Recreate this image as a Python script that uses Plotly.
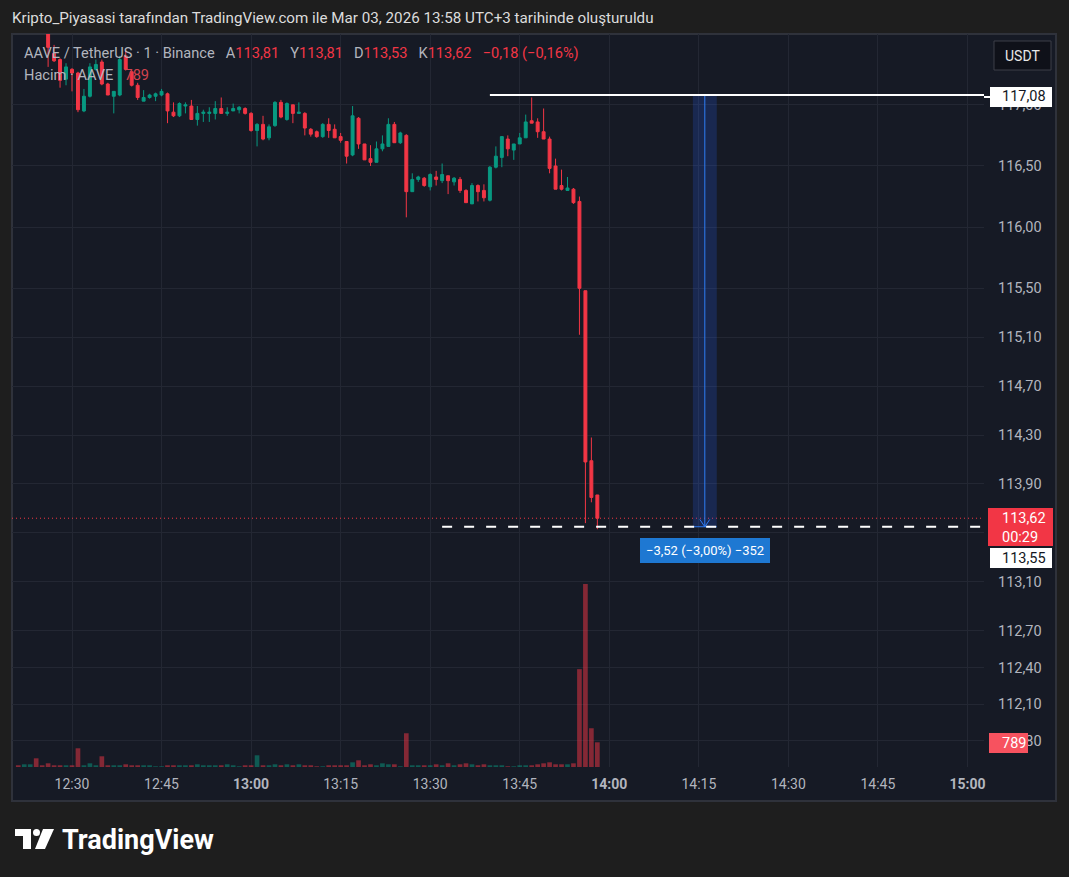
import pandas as pd
import plotly.graph_objects as go

# ---------------- data ----------------
TIME_START = "2026-03-03 12:21"
OPEN = [117.78, 117.74, 117.77, 117.82, 117.66, 117.63, 117.42, 117.37, 117.21, 117.29,
        117.26, 116.95, 117.07, 117.29, 117.35, 117.17, 117.07, 117.08, 117.40, 117.27,
        117.16, 117.03, 117.06, 117.07, 117.08, 117.09, 116.94, 116.91, 116.99, 116.99,
        116.88, 116.93, 116.93, 116.93, 116.97, 116.93, 116.95, 116.96, 116.97, 116.93,
        116.79, 116.84, 116.73, 116.83, 117.02, 116.88, 117.00, 116.93, 116.93, 116.80,
        116.78, 116.74, 116.84, 116.80, 116.74, 116.70, 116.59, 116.89, 116.68, 116.56,
        116.53, 116.64, 116.66, 116.84, 116.69, 116.75, 116.29, 116.39, 116.40, 116.33,
        116.41, 116.38, 116.42, 116.37, 116.39, 116.30, 116.19, 116.34, 116.30, 116.22,
        116.49, 116.57, 116.72, 116.63, 116.68, 116.73, 116.87, 116.86, 116.78, 116.72,
        116.50, 116.34, 116.30, 116.31, 116.21, 115.48, 114.09, 113.81]
HIGH = [117.82, 117.80, 117.86, 117.84, 117.70, 117.66, 117.49, 117.38, 117.34, 117.30,
        117.27, 117.13, 117.34, 117.37, 117.37, 117.18, 117.11, 117.40, 117.45, 117.28,
        117.18, 117.12, 117.09, 117.10, 117.13, 117.10, 117.02, 117.02, 117.02, 117.04,
        116.99, 116.96, 116.98, 117.03, 117.06, 116.98, 117.01, 116.99, 116.98, 116.94,
        116.85, 116.91, 116.84, 117.03, 117.04, 117.02, 117.00, 117.02, 116.94, 116.81,
        116.79, 116.85, 116.89, 116.84, 116.77, 116.70, 116.99, 116.90, 116.68, 116.67,
        116.70, 116.75, 116.89, 116.86, 116.78, 116.76, 116.44, 116.42, 116.41, 116.44,
        116.46, 116.52, 116.42, 116.41, 116.41, 116.31, 116.36, 116.35, 116.35, 116.50,
        116.66, 116.74, 116.75, 116.68, 116.77, 116.92, 117.06, 116.89, 116.97, 116.74,
        116.56, 116.47, 116.41, 116.32, 116.25, 115.48, 114.28, 113.81]
LOW = [117.70, 117.70, 117.73, 117.62, 117.60, 117.31, 117.35, 117.14, 117.16, 117.11,
       116.94, 116.94, 117.06, 117.28, 117.16, 117.08, 116.93, 117.07, 117.28, 117.15,
       117.04, 117.03, 117.05, 117.03, 117.07, 116.85, 116.90, 116.90, 116.93, 116.88,
       116.83, 116.86, 116.86, 116.88, 116.93, 116.91, 116.95, 116.93, 116.92, 116.78,
       116.66, 116.71, 116.71, 116.82, 116.89, 116.87, 116.85, 116.93, 116.75, 116.74,
       116.73, 116.73, 116.73, 116.73, 116.69, 116.52, 116.58, 116.64, 116.55, 116.50,
       116.53, 116.62, 116.66, 116.69, 116.68, 116.08, 116.29, 116.37, 116.33, 116.30,
       116.34, 116.36, 116.27, 116.34, 116.28, 116.20, 116.19, 116.21, 116.21, 116.21,
       116.48, 116.49, 116.58, 116.55, 116.68, 116.73, 116.85, 116.73, 116.72, 116.44,
       116.31, 116.30, 116.30, 116.19, 115.12, 113.58, 113.75, 113.53]
CLOSE = [117.74, 117.77, 117.82, 117.66, 117.63, 117.47, 117.36, 117.20, 117.31, 117.26,
         116.96, 117.07, 117.31, 117.33, 117.17, 117.08, 117.11, 117.37, 117.29, 117.16,
         117.06, 117.06, 117.08, 117.09, 117.11, 116.95, 116.91, 117.01, 117.00, 116.88,
         116.93, 116.94, 116.94, 116.97, 116.93, 116.94, 116.97, 116.98, 116.93, 116.79,
         116.84, 116.72, 116.82, 117.02, 116.90, 117.01, 116.93, 116.94, 116.81, 116.76,
         116.74, 116.84, 116.79, 116.73, 116.71, 116.58, 116.91, 116.68, 116.55, 116.53,
         116.64, 116.68, 116.84, 116.69, 116.77, 116.29, 116.39, 116.41, 116.34, 116.43,
         116.39, 116.43, 116.38, 116.40, 116.30, 116.20, 116.34, 116.29, 116.24, 116.49,
         116.58, 116.74, 116.64, 116.68, 116.73, 116.86, 116.85, 116.78, 116.72, 116.48,
         116.31, 116.31, 116.32, 116.20, 115.50, 114.08, 113.79, 113.62]
VOLUME = [55, 86, 86, 278, 55, 118, 55, 55, 55, 55,
          598, 55, 118, 55, 342, 55, 55, 55, 86, 55,
          55, 55, 55, 22, 22, 55, 55, 55, 55, 55,
          86, 55, 55, 55, 55, 86, 55, 22, 55, 55,
          374, 55, 55, 86, 55, 86, 55, 86, 55, 55,
          22, 22, 55, 55, 55, 55, 150, 214, 55, 86,
          55, 118, 86, 86, 22, 1078, 55, 55, 55, 55,
          86, 55, 118, 55, 86, 118, 86, 55, 86, 55,
          55, 55, 22, 22, 55, 55, 55, 86, 118, 150,
          86, 86, 86, 118, 3126, 5846, 1238, 789]

Y_TICKS = [111.8, 112.1, 112.4, 112.7, 113.1, 113.5, 113.9, 114.3, 114.7, 115.1, 115.5, 116.0, 116.5, 117.0]
Y_RANGE = [111.586, 117.579]
X_TICK_LABELS = ["12:30", "12:45", "<b>13:00</b>", "13:15", "13:30", "13:45", "<b>14:00</b>",
                 "14:15", "14:30", "14:45", "<b>15:00</b>"]
X_TICK_START, X_TICK_END = "2026-03-03 12:30", "2026-03-03 15:00"
X_RANGE = ["2026-03-03 12:19:57", "2026-03-03 15:02:46"]
VOL_RANGE_TOP = 23415

HIGH_LINE = 117.08
LOW_LINE = 113.55
LAST_PRICE = 113.62
HIGH_LINE_START = "2026-03-03 13:40"
LOW_LINE_START = "2026-03-03 13:32"
MEASURE_X0, MEASURE_MID, MEASURE_X1 = "2026-03-03 14:14", "2026-03-03 14:16", "2026-03-03 14:18"

TITLE = "Kripto_Piyasasi tarafından TradingView.com ile Mar 03, 2026 13:58 UTC+3 tarihinde oluşturuldu"

# ---------------- style ----------------
UP, DOWN = "#089981", "#f23645"
PAGE_BG, PANEL_BG, GRID = "#1e1e1e", "#161a25", "#232733"
TXT = "#b2b5be"
FONT = "Roboto"

L, R, T, B = 12, 984, 34, 767
W, H = R - L, B - T


def PX(x):
    return (x - L) / W


def PY(y):
    return (B - y) / H


times = pd.date_range(TIME_START, periods=len(OPEN), freq="min")
vol_colors = ["rgba(8,153,129,0.5)" if c >= o else "rgba(242,54,69,0.5)" for o, c in zip(OPEN, CLOSE)]

fig = go.Figure()
fig.add_trace(go.Bar(x=times, y=VOLUME, marker=dict(color=vol_colors, line_width=0),
                     width=47000, yaxis="y2", hoverinfo="skip", showlegend=False))
fig.add_trace(go.Candlestick(
    x=times, open=OPEN, high=HIGH, low=LOW, close=CLOSE,
    increasing=dict(line=dict(color=UP, width=1), fillcolor=UP),
    decreasing=dict(line=dict(color=DOWN, width=1), fillcolor=DOWN),
    whiskerwidth=0, showlegend=False))

shapes = []
# panel background
shapes.append(dict(type="rect", xref="paper", yref="paper", x0=PX(12), x1=PX(1056), y0=PY(801), y1=PY(34),
                   fillcolor=PANEL_BG, line=dict(color="#2f323b", width=2), layer="below"))
# last price dotted line
shapes.append(dict(type="line", xref="paper", yref="y", x0=0, x1=1, y0=LAST_PRICE, y1=LAST_PRICE,
                   line=dict(color=DOWN, width=1, dash="1px,3px")))
# measurement range
shapes.append(dict(type="rect", xref="x", yref="y", x0=MEASURE_X0, x1=MEASURE_X1, y0=LOW_LINE, y1=HIGH_LINE,
                   fillcolor="rgba(41,98,255,0.2)", line_width=0))
shapes.append(dict(type="line", xref="x", yref="y", x0=MEASURE_MID, x1=MEASURE_MID, y0=LOW_LINE, y1=HIGH_LINE,
                   line=dict(color="#2e7cf6", width=1)))
shapes.append(dict(type="line", xref="x", yref="y", x0=MEASURE_X0, x1=MEASURE_X1, y0=LOW_LINE, y1=LOW_LINE,
                   line=dict(color="#2e7cf6", width=1)))
mid = pd.Timestamp(MEASURE_MID)
for dx in (-50, 50):
    shapes.append(dict(type="line", xref="x", yref="y", x0=mid + pd.Timedelta(seconds=dx), x1=mid,
                       y0=LOW_LINE + 0.06, y1=LOW_LINE, line=dict(color="#2e7cf6", width=1)))
# horizontal lines
shapes.append(dict(type="line", xref="x", yref="y", x0=HIGH_LINE_START, x1=X_RANGE[1], y0=HIGH_LINE, y1=HIGH_LINE,
                   line=dict(color="#ffffff", width=2)))
shapes.append(dict(type="line", xref="x", yref="y", x0=LOW_LINE_START, x1=X_RANGE[1], y0=LOW_LINE, y1=LOW_LINE,
                   line=dict(color="#ffffff", width=2, dash="10px,12px")))

annotations = []
AX_FONT = 14.5


def label_box(x0, x1, y0, y1, fill, text, color, ytext=None):
    shapes.append(dict(type="rect", xref="paper", yref="paper", x0=PX(x0), x1=PX(x1), y0=PY(y1), y1=PY(y0),
                       fillcolor=fill, line_width=0, layer="above"))
    if text:
        annotations.append(dict(xref="paper", yref="paper", x=PX(1000), y=PY(ytext if ytext else (y0 + y1) / 2),
                                xanchor="left", yanchor="middle", text=text, showarrow=False,
                                font=dict(family=FONT, size=AX_FONT, color=color)))


label_box(984, 990, 96, 98, "#ffffff", "", "")
label_box(990, 1052, 87, 107, "#ffffff", "117,08", "#131722")
label_box(988, 1053, 508, 546, DOWN, "113,62", "#ffffff", 518)
annotations.append(dict(xref="paper", yref="paper", x=PX(1000), y=PY(537), xanchor="left", yanchor="middle",
                        text="00:29", showarrow=False, font=dict(family=FONT, size=AX_FONT, color="#ffffff")))
label_box(990, 1052, 548, 568, "#ffffff", "113,55", "#131722")
label_box(989, 1028, 733, 753, "#f7525f", "789", "#ffffff")

# USDT button
shapes.append(dict(type="rect", xref="paper", yref="paper", x0=PX(994), x1=PX(1051), y0=PY(70), y1=PY(41),
                   fillcolor="#0f1119", line=dict(color="#3c3f49", width=1), layer="above"))
annotations.append(dict(xref="paper", yref="paper", x=PX(1022.5), y=PY(55.5), text="USDT", showarrow=False,
                        xanchor="center", yanchor="middle", font=dict(family=FONT, size=14, color="#e8e8e8")))

# measurement label
shapes.append(dict(type="rect", xref="paper", yref="paper", x0=PX(640), x1=PX(770), y0=PY(563), y1=PY(538),
                   fillcolor="#1e78d2", line_width=0, layer="above"))
annotations.append(dict(xref="paper", yref="paper", x=PX(705), y=PY(550.5), text="−3,52 (−3,00%) −352",
                        showarrow=False, xanchor="center", yanchor="middle",
                        font=dict(family=FONT, size=13, color="#ffffff")))

# title & legend
annotations.append(dict(xref="paper", yref="paper", x=PX(10), y=PY(18), text=TITLE, showarrow=False,
                        xanchor="left", yanchor="middle", font=dict(family=FONT, size=15.2, color="#dcdcdc")))
sp = "\u2002 "
red = lambda s: f'<span style="color:{DOWN}">{s}</span>'
leg1 = ("AAVE / TetherUS · 1 · Binance" + sp + "A" + red("113,81") + sp + "Y" + red("113,81") + sp + "D" +
        red("113,53") + sp + "K" + red("113,62") + sp + red("−0,18 (−0,16%)"))
annotations.append(dict(xref="paper", yref="paper", x=PX(22), y=PY(53), text=leg1, showarrow=False,
                        xanchor="left", yanchor="middle", font=dict(family=FONT, size=14.6, color=TXT)))
leg2 = "Hacim · AAVE" + sp + '<span style="color:#d2434f">789</span>'
annotations.append(dict(xref="paper", yref="paper", x=PX(22), y=PY(75), text=leg2, showarrow=False,
                        xanchor="left", yanchor="middle", font=dict(family=FONT, size=14.6, color=TXT)))

# TradingView logo
shapes.append(dict(type="rect", xref="paper", yref="paper", x0=PX(15), x1=PX(31), y0=PY(836), y1=PY(829),
                   fillcolor="#ffffff", line_width=0, layer="above"))
shapes.append(dict(type="rect", xref="paper", yref="paper", x0=PX(23), x1=PX(31), y0=PY(849), y1=PY(829),
                   fillcolor="#ffffff", line_width=0, layer="above"))
shapes.append(dict(type="circle", xref="paper", yref="paper", x0=PX(33), x1=PX(40), y0=PY(836), y1=PY(829),
                   fillcolor="#ffffff", line_width=0, layer="above"))
pts = [(43, 829), (54, 829), (45, 849), (35, 849)]
path = "M " + " L ".join(f"{PX(x)},{PY(y)}" for x, y in pts) + " Z"
shapes.append(dict(type="path", xref="paper", yref="paper", path=path, fillcolor="#ffffff", line_width=0,
                   layer="above"))
annotations.append(dict(xref="paper", yref="paper", x=PX(60), y=PY(840), text="<b>TradingView</b>",
                        showarrow=False, xanchor="left", yanchor="middle",
                        font=dict(family=FONT, size=27, color="#ffffff")))

fig.update_layout(
    width=1069, height=877,
    margin=dict(l=L, r=1069 - R, t=T, b=877 - B, pad=0),
    paper_bgcolor=PAGE_BG, plot_bgcolor=PANEL_BG,
    separators=",.",
    shapes=shapes, annotations=annotations,
    showlegend=False, hovermode=False,
    font=dict(family=FONT),
    xaxis=dict(type="date", range=X_RANGE, rangeslider=dict(visible=False),
               tickvals=list(pd.date_range(X_TICK_START, X_TICK_END, freq="15min")),
               ticktext=X_TICK_LABELS, showgrid=True, gridcolor=GRID, gridwidth=1,
               zeroline=False, showline=False, ticks="", ticklabelstandoff=7,
               tickfont=dict(family=FONT, size=14, color=TXT)),
    yaxis=dict(range=Y_RANGE, side="right", tickvals=Y_TICKS, tickformat=".2f", showgrid=True,
               gridcolor=GRID, gridwidth=1, zeroline=False, showline=False, ticks="",
               ticklabelstandoff=13, tickfont=dict(family=FONT, size=AX_FONT, color=TXT)),
    yaxis2=dict(range=[0, VOL_RANGE_TOP], overlaying="y", visible=False, showgrid=False),
)

fig.write_html("out.html", config={"displayModeBar": False},
               post_script="document.body.style.margin='0';")
